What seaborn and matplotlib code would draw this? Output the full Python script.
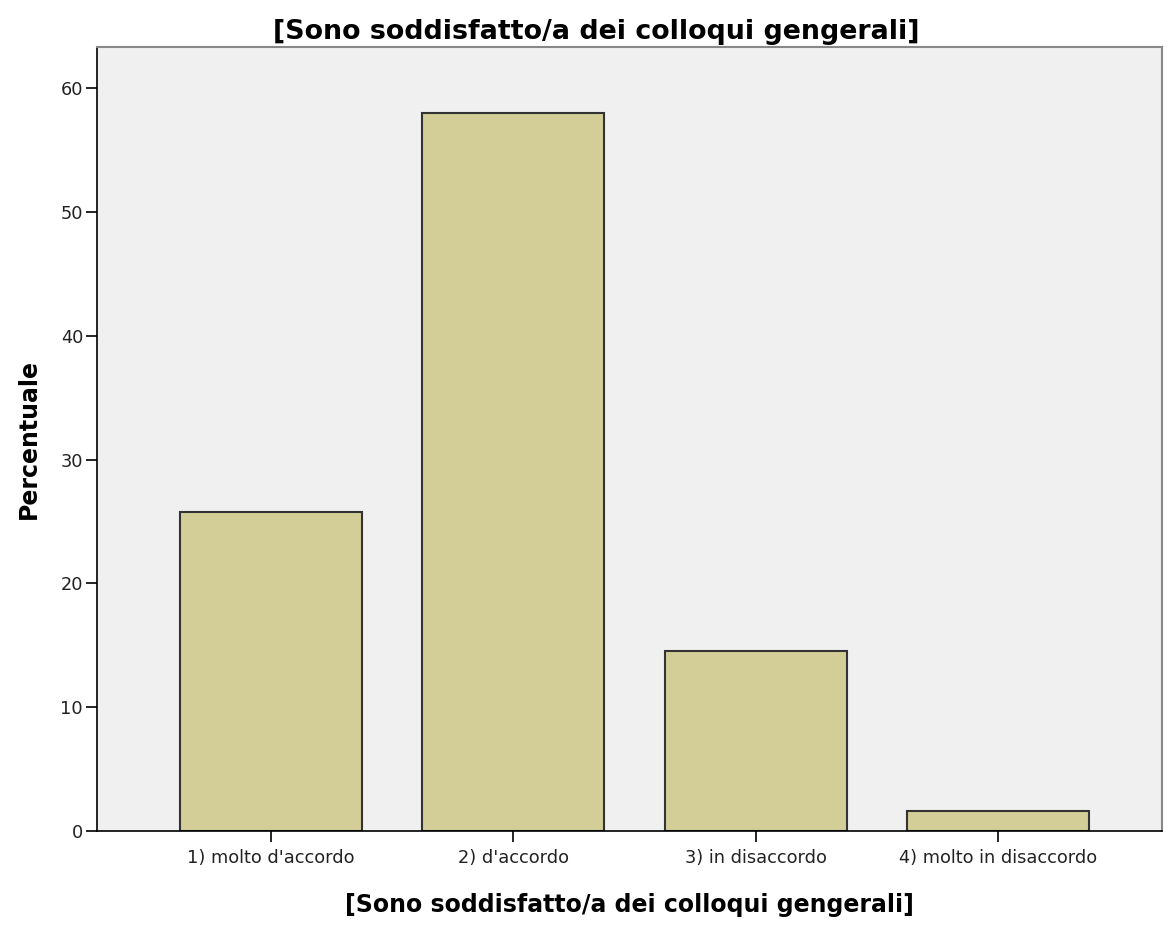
import matplotlib
matplotlib.use("Agg")
import matplotlib.pyplot as plt
import seaborn as sns
import pandas as pd

# Dati
categorie = ["1) molto d'accordo", "2) d'accordo", "3) in disaccordo", "4) molto in disaccordo"]
percentuali = [25.8, 58.0, 14.5, 1.6]
titolo = "[Sono soddisfatto/a dei colloqui gengerali]"

df = pd.DataFrame({"categoria": categorie, "percentuale": percentuali})

sns.set_style("white")
plt.rcParams['font.family'] = ['DejaVu Sans']

fig = plt.figure(figsize=(11.74, 9.25), dpi=100)
ax = fig.add_axes([0.0826, 0.1016, 0.9072, 0.8474])

sns.barplot(data=df, x="categoria", y="percentuale", color="#D3CE98",
            saturation=1, width=0.75, edgecolor="#333333", linewidth=1.5, ax=ax)

ax.set_facecolor("#F0F0F0")
ax.set_xlim(-0.717, 3.676)
ax.set_ylim(0, 63.3)
ax.set_yticks([0, 10, 20, 30, 40, 50, 60])

for side in ["left", "bottom"]:
    ax.spines[side].set_color("black")
    ax.spines[side].set_linewidth(1.2)
for side in ["top", "right"]:
    ax.spines[side].set_color("#888888")
    ax.spines[side].set_linewidth(1.5)

ax.tick_params(axis="both", which="both", length=8, width=1.2, color="black",
               labelsize=12.8, labelcolor="#222222", direction="out",
               left=True, bottom=True)
ax.tick_params(axis="y", pad=2)
ax.tick_params(axis="x", pad=5)

ax.set_xlabel(titolo, fontsize=17, fontweight="bold", labelpad=19, color="black")
ax.set_ylabel("Percentuale", fontsize=17, fontweight="bold", labelpad=14, color="black")
# il titolo è centrato sulla figura, non sull'area del grafico
ax.set_title(titolo, fontsize=19.4, fontweight="bold", pad=6, color="black", x=0.4685)

fig.savefig("out.png", dpi=100)
